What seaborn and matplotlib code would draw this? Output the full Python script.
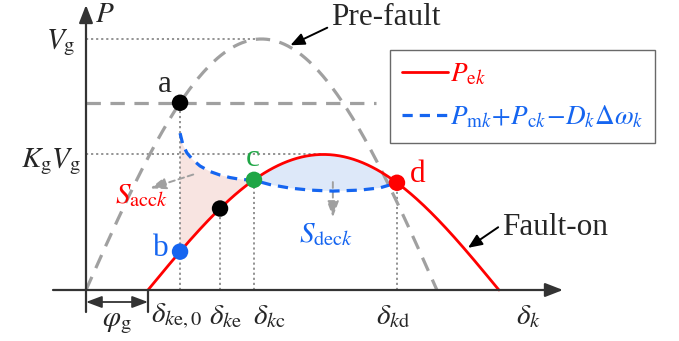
import numpy as np
import pandas as pd
import matplotlib
matplotlib.use("Agg")
import matplotlib.pyplot as plt
import seaborn as sns

sns.set_theme(style="white")
plt.rcParams["font.family"] = ["Liberation Serif", "DejaVu Serif"]
plt.rcParams["mathtext.fontset"] = "stix"

# Power-angle parameters (per unit of Vg, angles in rad)
V_g = 1.0
K_g = 0.54
phi_g = 0.555

# Key rotor angles
delta_ke0 = 0.842
delta_ke = 1.200
delta_kc = 1.504
delta_kd = 2.784

# Mechanical-side power P_mk + P_ck - D_k*dw_k, sampled along the swing
blue_delta = [0.842, 0.868, 0.904, 0.958, 1.021, 1.110, 1.200, 1.289, 1.379,
              1.504, 1.647, 1.826, 2.005, 2.211, 2.453, 2.632, 2.784]
blue_power = [0.625, 0.578, 0.546, 0.518, 0.494, 0.472, 0.458, 0.448, 0.441,
              0.437, 0.420, 0.406, 0.398, 0.394, 0.398, 0.407, 0.427]

RED = "#ff0000"
BLUE = "#1565f0"
GREEN = "#1fa646"
GRAY = "#a0a0a0"
AXC = "#333333"


def pre_fault(d):
    return V_g * np.sin(d)


def fault_on(d):
    return K_g * V_g * np.sin(d - phi_g)


P_a = pre_fault(delta_ke0)

fig = plt.figure(figsize=(6.79, 3.41), dpi=100)
ax = fig.add_axes([0, 0, 1, 1])
px = 111.7  # pixels per rad
py = 251.0  # pixels per unit power
ax.set_xlim(-86 / px, (679 - 86) / px)
ax.set_ylim(-(341 - 290) / py, 290 / py)
ax.axis("off")

# Curves
d_pre = np.linspace(0, np.pi, 300)
d_flt = np.linspace(phi_g, np.pi + phi_g, 300)
df_pre = pd.DataFrame({"delta": d_pre, "P": pre_fault(d_pre)})
df_flt = pd.DataFrame({"delta": d_flt, "P": fault_on(d_flt)})
df_blue = pd.DataFrame({"delta": blue_delta, "P": blue_power})

# Shaded areas S_acc and S_dec
blue_d = np.array(blue_delta)
blue_p = np.array(blue_power)
m_acc = blue_d <= delta_kc + 1e-9
r_acc = np.linspace(delta_kc, delta_ke0, 60)
ax.fill(np.r_[blue_d[m_acc], r_acc], np.r_[blue_p[m_acc], fault_on(r_acc)],
        color="#f8e4e1", lw=0, zorder=1)
m_dec = blue_d >= delta_kc - 1e-9
r_dec = np.linspace(delta_kd, delta_kc, 80)
ax.fill(np.r_[blue_d[m_dec], r_dec], np.r_[blue_p[m_dec], fault_on(r_dec)],
        color="#dde8f9", lw=0, zorder=1)

# Guide lines
dot_kw = dict(color="#8a8a8a", lw=1.3, ls=(0, (1.2, 1.6)), zorder=2)
ax.plot([0, np.pi / 2], [V_g, V_g], **dot_kw)
ax.plot([0, np.pi / 2 + phi_g], [K_g * V_g, K_g * V_g], **dot_kw)
ax.plot([delta_ke0, delta_ke0], [0, P_a], **dot_kw)
ax.plot([delta_ke, delta_ke], [0, fault_on(delta_ke)], **dot_kw)
ax.plot([delta_kc, delta_kc], [0, fault_on(delta_kc)], **dot_kw)
ax.plot([delta_kd, delta_kd], [0, fault_on(delta_kd)], **dot_kw)
ax.plot([0, 2.6], [P_a, P_a], color=GRAY, lw=2.3, ls=(0, (4.5, 3)), zorder=2)

sns.lineplot(data=df_pre, x="delta", y="P", ax=ax, color=GRAY, lw=2.3,
             linestyle=(0, (4.5, 3)), zorder=3)
sns.lineplot(data=df_flt, x="delta", y="P", ax=ax, color=RED, lw=2.0,
             zorder=4, label=r"$P_{\mathrm{e}k}$")
sns.lineplot(data=df_blue, x="delta", y="P", ax=ax, color=BLUE, lw=2.3,
             linestyle=(0, (3.2, 2.2)), zorder=4,
             label=r"$P_{\mathrm{m}k}\!+\!P_{\mathrm{c}k}\!-\!D_k\Delta\omega_k$")

# Axes with arrows
ax.annotate("", xy=((563 - 86) / px, 0), xytext=(-33 / px, 0),
            arrowprops=dict(arrowstyle="-|>,head_length=0.9,head_width=0.35",
                            color=AXC, lw=1.6, shrinkA=0, shrinkB=0), zorder=5)
ax.annotate("", xy=(0, 285 / py), xytext=(0, -22 / py),
            arrowprops=dict(arrowstyle="-|>,head_length=0.9,head_width=0.35",
                            color=AXC, lw=1.6, shrinkA=0, shrinkB=0), zorder=5)
ax.plot([phi_g, phi_g], [0, -22 / py], color=AXC, lw=1.6, zorder=5)
ax.annotate("", xy=(0, -12 / py), xytext=(phi_g, -12 / py),
            arrowprops=dict(arrowstyle="<|-|>,head_length=0.8,head_width=0.3",
                            color=AXC, lw=1.3, shrinkA=0, shrinkB=0), zorder=5)

# Operating points
pts = pd.DataFrame({
    "delta": [delta_ke0, delta_ke0, delta_ke, delta_kc, delta_kd],
    "P": [P_a, fault_on(delta_ke0), fault_on(delta_ke), fault_on(delta_kc),
          fault_on(delta_kd)],
    "c": ["#000000", BLUE, "#000000", GREEN, RED],
})
sns.scatterplot(data=pts, x="delta", y="P", ax=ax, c=pts["c"], s=140,
                edgecolor="none", zorder=6, legend=False)

# Area arrows
ax.annotate("", xy=(0.575, 0.405), xytext=(0.96, 0.46),
            arrowprops=dict(arrowstyle="-|>,head_length=0.8,head_width=0.3",
                            color=GRAY, lw=1.4, ls=(0, (3, 2)),
                            shrinkA=0, shrinkB=0), zorder=3)
ax.annotate("", xy=(2.21, 0.29), xytext=(2.21, 0.43),
            arrowprops=dict(arrowstyle="-|>,head_length=0.8,head_width=0.3",
                            color=GRAY, lw=1.4, ls=(0, (3, 2)),
                            shrinkA=0, shrinkB=0), zorder=3)

FS = 22.5   # plain text
FM = 21     # math labels
ax.text(0.17, 1.095, r"$P$", fontsize=FM, ha="center", va="center")
ax.text(-0.09, 0.985, r"$V_{\mathrm{g}}$", fontsize=FM, ha="right", va="center")
ax.text(-0.04, 0.51, r"$K_{\mathrm{g}}V_{\mathrm{g}}$", fontsize=FM,
        ha="right", va="center")
ax.text(0.71, 0.82, "a", fontsize=FS, ha="center", va="center")
ax.text(0.67, 0.165, "b", fontsize=FS, ha="center", va="center", color=BLUE)
ax.text(1.49, 0.525, "c", fontsize=FS, ha="center", va="center", color=GREEN)
ax.text(2.97, 0.46, "d", fontsize=FS, ha="center", va="center", color=RED)
ax.text(0.50, 0.375, r"$S_{\mathrm{acc}k}$", fontsize=FM, ha="center",
        va="center", color=RED)
ax.text(2.15, 0.275, r"$S_{\mathrm{dec}k}$", fontsize=FM, ha="center",
        va="top", color=BLUE)
ax.text(2.19, 1.085, "Pre-fault", fontsize=FS, ha="left", va="center")
ax.annotate("", xy=(1.83, 0.975), xytext=(2.16, 1.045),
            arrowprops=dict(arrowstyle="-|>,head_length=0.7,head_width=0.3",
                            color="black", lw=1.4, shrinkA=0, shrinkB=0))
ax.text(3.725, 0.25, "Fault-on", fontsize=FS, ha="left", va="center")
ax.annotate("", xy=(3.42, 0.168), xytext=(3.69, 0.25),
            arrowprops=dict(arrowstyle="-|>,head_length=0.7,head_width=0.3",
                            color="black", lw=1.4, shrinkA=0, shrinkB=0))

yl = -0.105
ax.text((177 - 86) / px, yl, r"$\delta_{k\mathrm{e},0}$", fontsize=FM,
        ha="center", va="center")
ax.text((226 - 86) / px, yl, r"$\delta_{k\mathrm{e}}$", fontsize=FM,
        ha="center", va="center")
ax.text((269 - 86) / px, yl, r"$\delta_{k\mathrm{c}}$", fontsize=FM,
        ha="center", va="center")
ax.text((393 - 86) / px, yl, r"$\delta_{k\mathrm{d}}$", fontsize=FM,
        ha="center", va="center")
ax.text((528 - 86) / px, yl, r"$\delta_k$", fontsize=FM, ha="center",
        va="center")
ax.text(phi_g / 2, -0.13, r"$\varphi_{\mathrm{g}}$", fontsize=FM, ha="center",
        va="center")

leg = ax.legend(loc="upper left", bbox_to_anchor=(390 / 679, 1 - 50 / 341),
                fontsize=19.5, frameon=True, fancybox=False,
                edgecolor="#444444", handlelength=1.7, handletextpad=0.05,
                borderpad=0.45, labelspacing=0.6, borderaxespad=0,
                labelcolor="linecolor")
leg.get_frame().set_linewidth(1.0)

fig.savefig("out.png", dpi=100)
